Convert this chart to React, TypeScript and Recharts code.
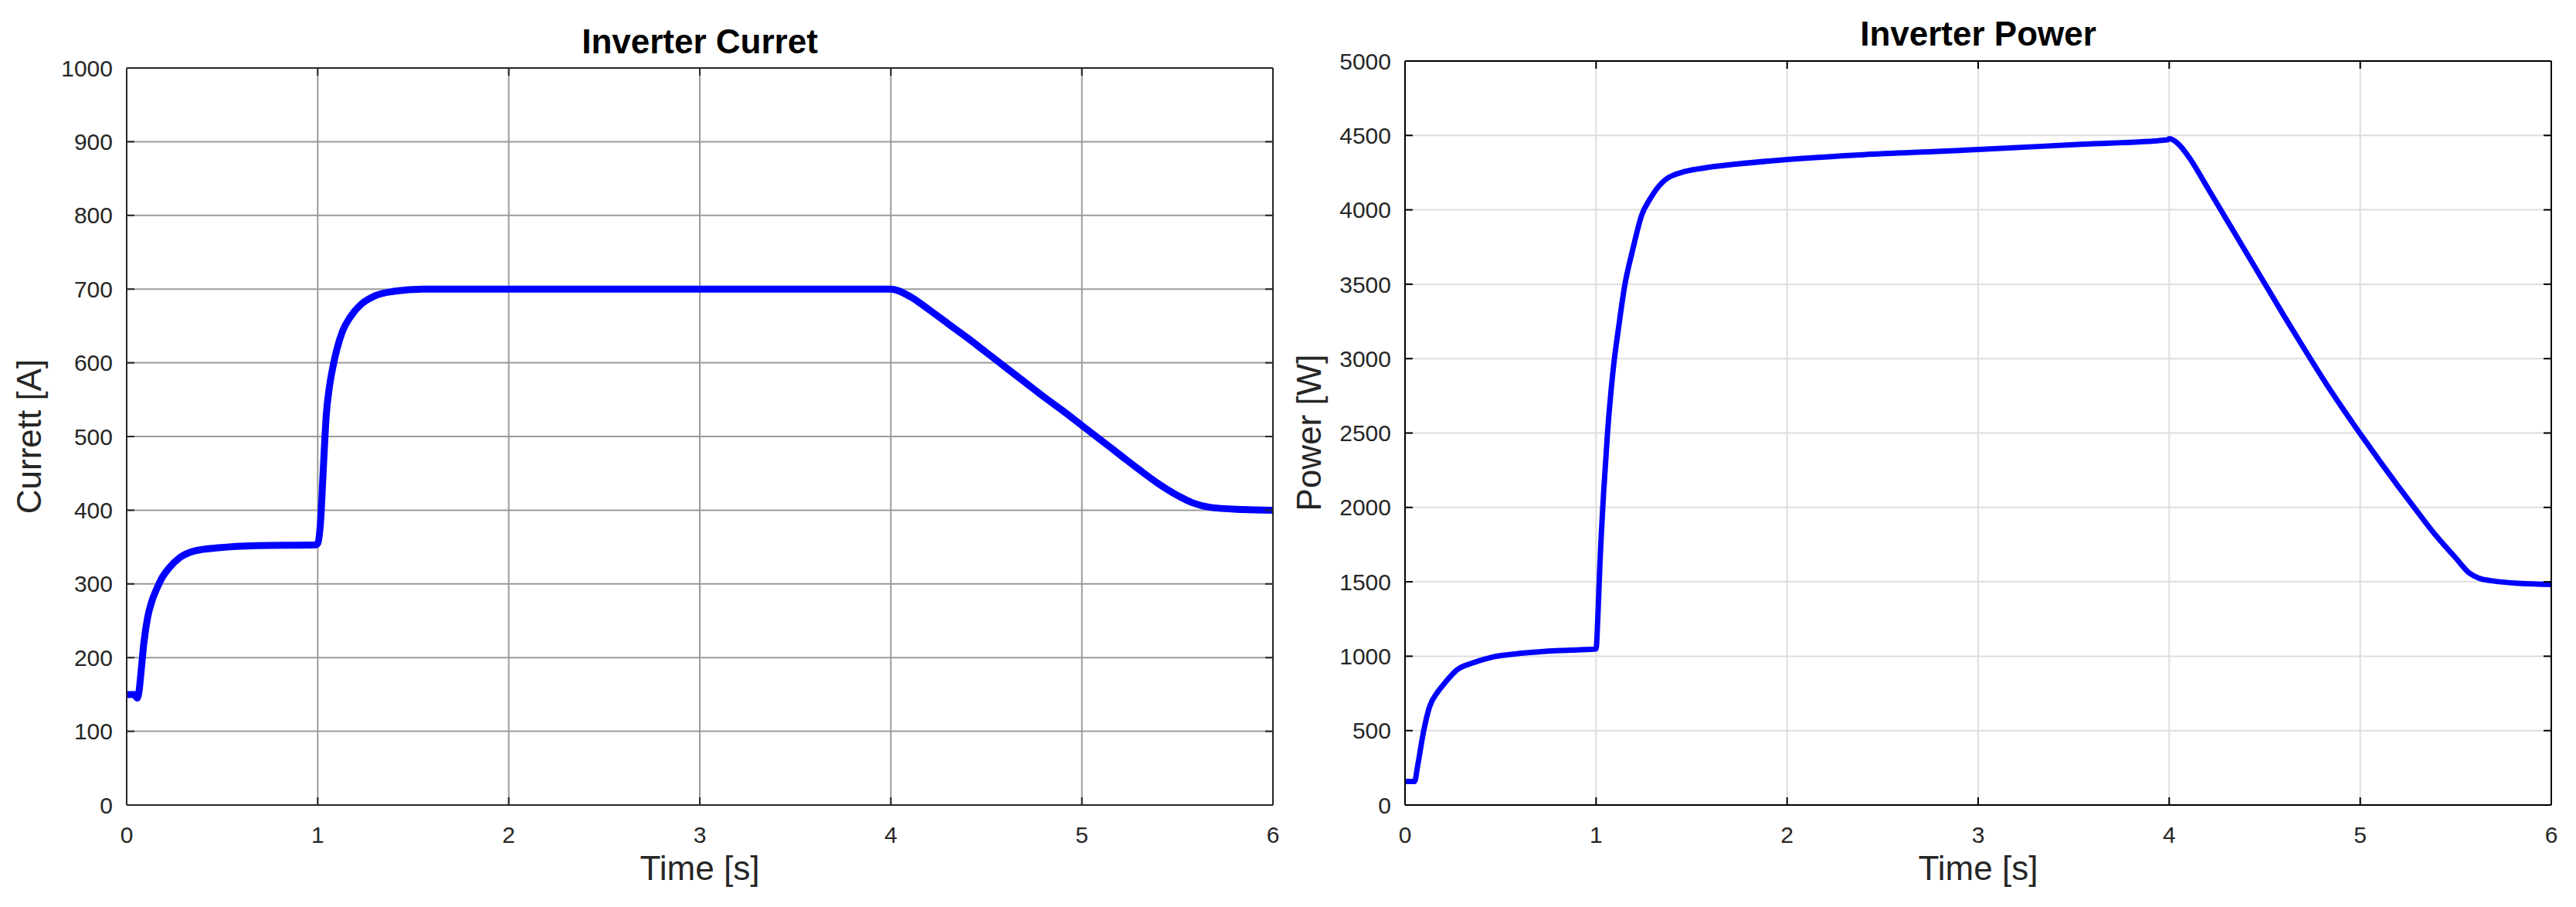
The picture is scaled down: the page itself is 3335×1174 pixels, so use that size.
import { LineChart, Line, CartesianGrid, XAxis, YAxis } from 'recharts';

// time [s] and values
const currentTime = [0, 0.04, 0.055, 0.065, 0.075, 0.09, 0.11, 0.13, 0.155, 0.18, 0.22, 0.28, 0.36, 0.48, 0.68, 0.99, 1.0, 1.015, 1.03, 1.045, 1.06, 1.08, 1.1, 1.13, 1.17, 1.23, 1.3, 1.4, 1.55, 4.0, 4.1, 4.2, 4.3, 4.4, 4.5, 4.6, 4.7, 4.8, 4.9, 5.0, 5.1, 5.2, 5.3, 5.4, 5.5, 5.58, 5.67, 5.84, 6.0];
const currentValues = [150, 150, 145, 155, 180, 220, 255, 275, 292, 306, 321, 336, 345, 349, 352, 353, 355, 385, 460, 530, 565, 595, 618, 643, 662, 680, 691, 697, 700, 700, 690, 672, 653, 634, 614, 594, 574, 554, 535, 515, 495, 475, 455, 436, 420, 410, 404, 401, 400];

const powerTime = [0, 0.05, 0.066, 0.097, 0.128, 0.17, 0.21, 0.27, 0.355, 0.46, 0.62, 0.81, 0.99, 1.0, 1.01, 1.02, 1.04, 1.06, 1.09, 1.12, 1.15, 1.19, 1.24, 1.28, 1.36, 1.47, 1.57, 1.74, 2.0, 2.4, 2.81, 3.0, 3.54, 3.99, 4.0, 4.05, 4.1, 4.2, 4.3, 4.4, 4.5, 4.6, 4.7, 4.8, 4.9, 5.0, 5.1, 5.2, 5.3, 5.4, 5.5, 5.57, 5.62, 5.7, 5.83, 6.0];
const powerValues = [158, 158, 263, 494, 659, 758, 823, 906, 955, 995, 1021, 1038, 1047, 1050, 1285, 1614, 2108, 2503, 2931, 3228, 3491, 3722, 3969, 4068, 4200, 4259, 4282, 4308, 4338, 4371, 4394, 4405, 4441, 4470, 4478, 4440, 4360, 4150, 3935, 3720, 3505, 3290, 3080, 2875, 2680, 2495, 2315, 2140, 1970, 1805, 1660, 1560, 1525, 1505, 1490, 1482];

const timeTicks = [0, 1, 2, 3, 4, 5, 6];
const currentTicks = [0, 100, 200, 300, 400, 500, 600, 700, 800, 900, 1000];
const powerTicks = [0, 500, 1000, 1500, 2000, 2500, 3000, 3500, 4000, 4500, 5000];

const currentData = currentTime.map((t, i) => ({ t, v: currentValues[i] }));
const powerData = powerTime.map((t, i) => ({ t, v: powerValues[i] }));

const FONT = '"Liberation Sans", Arial, Helvetica, sans-serif';

const NoLabel = () => <g />;

function Panel({ data, yTicks, yMax, frame, grid, lineWidth, chartWidth, margin }) {
  const tickStyle = { fill: '#262626', fontSize: 30, fontFamily: FONT };
  const tl = { stroke: frame, strokeWidth: 2 };
  return (
    <LineChart width={chartWidth} height={1174} data={data} margin={margin}>
      <CartesianGrid stroke={grid} strokeWidth={2} xAxisId="b" yAxisId="l" />
      <XAxis xAxisId="b" dataKey="t" type="number" domain={[0, 6]} ticks={timeTicks} height={60}
        tickSize={-10} tickMargin={38} tick={tickStyle} stroke={frame} strokeWidth={2} tickLine={tl} />
      <XAxis xAxisId="top" dataKey="t" orientation="top" type="number" domain={[0, 6]} ticks={timeTicks}
        height={10} allowDataOverflow tickSize={-10} tick={NoLabel} stroke={frame} strokeWidth={2} tickLine={tl} />
      <YAxis yAxisId="l" dataKey="v" type="number" domain={[0, yMax]} ticks={yTicks} width={100}
        tickSize={-10} tickMargin={28} tick={tickStyle} stroke={frame} strokeWidth={2} tickLine={tl} />
      <YAxis yAxisId="r" dataKey="v" orientation="right" type="number" domain={[0, yMax]} ticks={yTicks}
        width={10} allowDataOverflow tickSize={-10} tick={NoLabel} stroke={frame} strokeWidth={2} tickLine={tl} />
      <Line xAxisId="b" yAxisId="l" type="monotone" dataKey="v" stroke="#0000ff" strokeWidth={lineWidth}
        dot={false} isAnimationActive={false} strokeLinejoin="round" />
    </LineChart>
  );
}

const abs = (left, top) => ({ position: 'absolute', left, top });

export default function App() {
  const titleStyle = { fontFamily: FONT, fontWeight: 'bold', fontSize: 44, lineHeight: '44px', color: '#000', textAlign: 'center' };
  const labelStyle = { fontFamily: FONT, fontSize: 44, lineHeight: '44px', color: '#262626', whiteSpace: 'nowrap' };
  return (
    <div style={{ position: 'relative', width: 3335, height: 1174, background: '#fff', overflow: 'hidden' }}>
      <style>{'body{margin:0}'}</style>

      <div style={abs(0, 0)}>
        <Panel data={currentData} yTicks={currentTicks} yMax={1000} frame="#262626" grid="#9a9a9a"
          lineWidth={9} chartWidth={1700} margin={{ top: 78, right: 42, bottom: 72, left: 64 }} />
      </div>
      <div style={{ ...abs(164, 32), width: 1484, ...titleStyle }}>Inverter Curret</div>
      <div style={{ ...abs(906, 1124), ...labelStyle, transform: 'translate(-50%, -50%)' }}>Time [s]</div>
      <div style={{ ...abs(38, 565), ...labelStyle, transform: 'translate(-50%, -50%) rotate(-90deg)' }}>Currett [A]</div>

      <div style={abs(1700, 0)}>
        <Panel data={powerData} yTicks={powerTicks} yMax={5000} frame="#000000" grid="#dedede"
          lineWidth={7} chartWidth={1635} margin={{ top: 69, right: 22, bottom: 72, left: 19 }} />
      </div>
      <div style={{ ...abs(1819, 22), width: 1484, ...titleStyle }}>Inverter Power</div>
      <div style={{ ...abs(2561, 1124), ...labelStyle, transform: 'translate(-50%, -50%)' }}>Time [s]</div>
      <div style={{ ...abs(1695, 560), ...labelStyle, transform: 'translate(-50%, -50%) rotate(-90deg)' }}>Power [W]</div>
    </div>
  );
}
